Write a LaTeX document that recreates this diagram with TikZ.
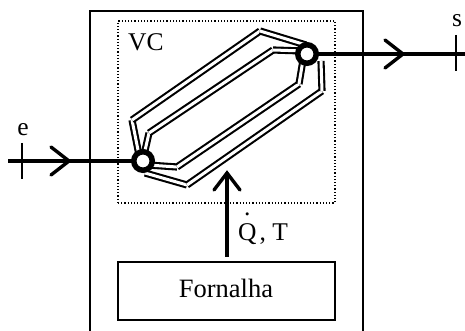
\documentclass[tikz,border=0pt]{standalone}
\usepackage{fontspec}
\setmainfont{Liberation Serif}
\usetikzlibrary{positioning}
\tikzstyle{wall}=[draw,line width=1.5pt]
\tikzstyle{pipe}=[double,double distance=3pt,line width=2.1pt]
\tikzstyle{header}=[draw,circle,line width=5.5pt,minimum size=18.5pt,inner sep=0pt,fill=white]
\tikzstyle{flow}=[line width=3.4pt]
\tikzstyle{chevron}=[line width=3.4pt,line cap=round,line join=miter]
\tikzstyle{tick}=[line width=1.4pt]
\tikzstyle{label}=[inner sep=0pt,font=\fontsize{25.5}{28}\selectfont]

\begin{document}
\begin{tikzpicture}[x=1pt,y=-1pt]
\useasboundingbox (0,0) rectangle (465,331);
\coordinate (shellnw) at (90,11);
\coordinate (shellne) at (363,11);
\coordinate (shellsw) at (90,331);
\coordinate (shellse) at (363,331);
\draw [wall] (shellsw) -- (shellnw) -- (shellne) -- (shellse);
\node [draw,dotted,line width=1.2pt,minimum width=217pt,minimum height=182pt,inner sep=0pt] (vc) at (226.5,112) {};
\node [label,anchor=base west] (vclabel) at (128,51) {VC};
\node [wall,minimum width=217pt,minimum height=58pt,inner sep=0pt,anchor=north] (fornalha) at (226.5,261) {};
\node [label,anchor=base,font=\fontsize{26.5}{28}\selectfont] (fornalhalabel) at (226,297) {Fornalha};

% the tube bundle
\coordinate (a0) at (139,155);
\coordinate (a1) at (132,120);
\coordinate (a2) at (260,31);
\coordinate (a3) at (306,45);
\coordinate (b0) at (144,155);
\coordinate (b1) at (149,133);
\coordinate (b2) at (273,50);
\coordinate (b3) at (303,51);
\coordinate (c0) at (148,165);
\coordinate (c1) at (177,167);
\coordinate (c2) at (299,84);
\coordinate (c3) at (303,60);
\coordinate (d0) at (145,173);
\coordinate (d1) at (187,185);
\coordinate (d2) at (322,91);
\coordinate (d3) at (321,61);
\foreach \p/\q in {a0/a1,a1/a2,a2/a3,b0/b1,b1/b2,b2/b3,c0/c1,c1/c2,c2/c3,d0/d1,d1/d2,d2/d3}
  \draw [pipe] (\p) -- (\q);

% inlet and outlet
\coordinate (hin) at (143,161);
\coordinate (hout) at (307,54);
\coordinate (inend) at (8,161);
\coordinate (outend) at (465,53);
\draw [flow] (inend) -- (hin);
\draw [flow] (hout) -- (hout -| outend);
\node [header] (left) at (hin) {};
\node [header] (right) at (hout) {};
\draw [chevron] (51,147) -- (69,161) -- (51,175);
\draw [chevron] (385,40) -- (403,54) -- (385,68);
\draw [tick] (22,143) -- (22,179);
\draw [tick] (456,35) -- (456,71);
\node [label,anchor=base] (e) at (23,136) {e};
\node [label,anchor=base] (s) at (457,27) {s};

% heat from the furnace
\coordinate (heattip) at (227,173);
\draw [flow] (fornalha.north -| heattip) ++(0,-4.5) -- (heattip);
\draw [chevron] (214,190) -- (227,173) -- (240,190);
\node [label,anchor=base west] (q) at (238,240) {\makebox[0pt][l]{\hspace{.236em}\raisebox{.97em}{.}}Q\hspace{.12em}, T};
\end{tikzpicture}
\end{document}
